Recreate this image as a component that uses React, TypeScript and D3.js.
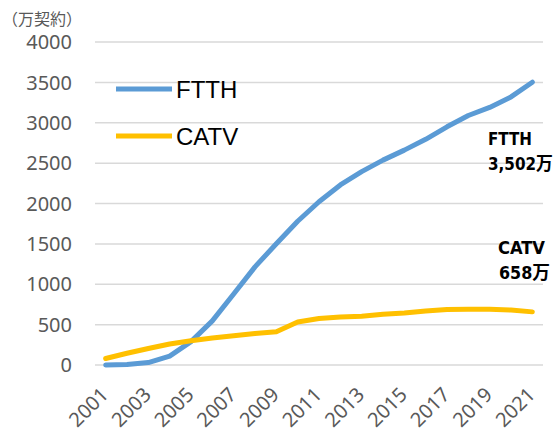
import * as d3 from 'd3'

// broadband subscriptions, unit: 万契約
const years = ['2001', '2002', '2003', '2004', '2005', '2006', '2007', '2008', '2009', '2010', '2011',
    '2012', '2013', '2014', '2015', '2016', '2017', '2018', '2019', '2020', '2021'];
const ftth = [0, 5, 30, 110, 290, 546, 880, 1215, 1502, 1780, 2022, 2230, 2395, 2537, 2661, 2795, 2950, 3090, 3190, 3320, 3502];
const catv = [80, 145, 205, 260, 300, 334, 362, 390, 412, 532, 575, 595, 605, 628, 645, 670, 688, 690, 690, 680, 658];
const yTicks = [0, 500, 1000, 1500, 2000, 2500, 3000, 3500, 4000];
const seriesNames = ['FTTH', 'CATV'];

const colors = {FTTH: '#5B9BD5', CATV: '#FFC000'};
const gray = '#595959';

export default function App() {
    // Set width and height
    const width = 555, height = 432;
    const margin = {top: 42, right: 12, bottom: 67, left: 95};

    const x = d3.scalePoint().domain(years).range([margin.left, width - margin.right]).padding(0.5);
    const y = d3.scaleLinear().domain([0, 4000]).range([height - margin.bottom, margin.top]);

    const line = d3.line<number>()
        .x((d, i) => x(years[i]) as number)
        .y(d => y(d));

    const series = [
        {name: seriesNames[0], values: ftth},
        {name: seriesNames[1], values: catv},
    ];

    const lastFtth = ftth[ftth.length - 1];
    const lastCatv = catv[catv.length - 1];

    return (
        <svg width={width} height={height} style={{position: 'absolute', left: 0, top: 0}}>
            <text x={2} y={25} fontSize={16} fill={gray} fontFamily="'Noto Sans CJK JP'">（万契約）</text>

            {/* gridlines and y labels */}
            {yTicks.map(t => (
                <g key={t}>
                    <line x1={margin.left} x2={width - margin.right} y1={y(t)} y2={y(t)}
                          stroke="#d9d9d9" strokeWidth={1.5}/>
                    <text x={72} y={y(t)} dy="0.36em" textAnchor="end" fontSize={20} fill={gray}
                          fontFamily="'Noto Sans'">{t}</text>
                </g>
            ))}

            {/* x labels, odd years only */}
            {years.filter((d, i) => i % 2 === 0).map(d => (
                <text key={d} transform={`translate(${(x(d) as number) + 4},396) rotate(-45)`}
                      textAnchor="end" fontSize={20} fill={gray} fontFamily="'Noto Sans'">{d}</text>
            ))}

            {series.map(s => (
                <path key={s.name} d={line(s.values) || ''} fill="none" stroke={colors[s.name]}
                      strokeWidth={5} strokeLinejoin="round" strokeLinecap="round"/>
            ))}

            {/* legend */}
            {series.map((s, i) => (
                <g key={s.name} transform={`translate(116, ${89 + i * 47})`}>
                    <line x1={0} x2={56} y1={0} y2={0} stroke={colors[s.name]} strokeWidth={5}/>
                    <text x={60} y={0} dy="0.36em" fontSize={24} fill="#000"
                          fontFamily="'Liberation Sans', Arial">{s.name}</text>
                </g>
            ))}

            {/* end labels */}
            <g fontFamily="'DejaVu Sans Condensed', 'Noto Sans CJK JP'" fontWeight="bold" fontSize={18} fill="#000">
                <text x={488} y={145} textLength={44} lengthAdjust="spacingAndGlyphs">{seriesNames[0]}</text>
                <text x={488} y={170} textLength={65} lengthAdjust="spacingAndGlyphs">{d3.format(',')(lastFtth)}万</text>
                <text x={498} y={254} textLength={47} lengthAdjust="spacingAndGlyphs">{seriesNames[1]}</text>
                <text x={499} y={279} textLength={51} lengthAdjust="spacingAndGlyphs">{lastCatv}万</text>
            </g>
        </svg>
    );
}
